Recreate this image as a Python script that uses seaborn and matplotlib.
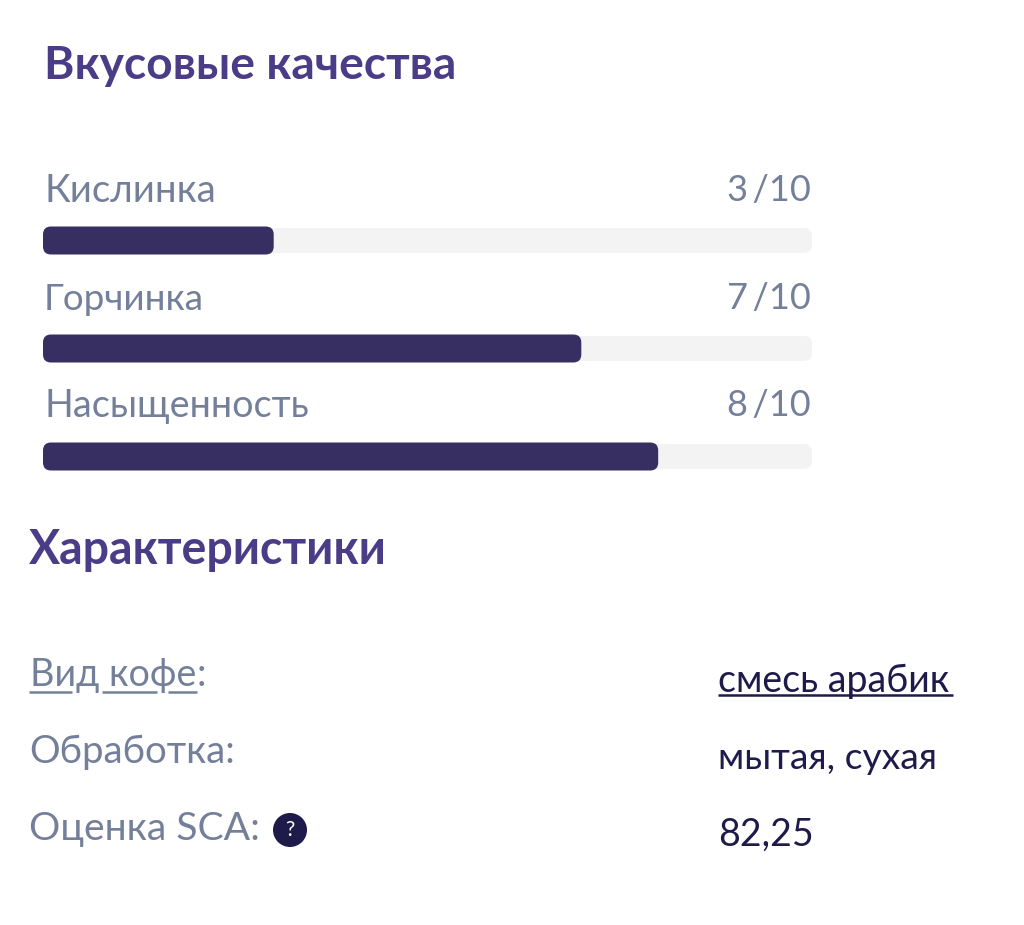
import matplotlib
matplotlib.use('Agg')
import matplotlib.pyplot as plt
import pandas as pd
import seaborn as sns
from matplotlib.patches import Circle, FancyBboxPatch

taste_labels = ['Кислинка', 'Горчинка', 'Насыщенность']
taste_values = [3, 7, 8]
taste_max = [10, 10, 10]
spec_labels = ['Вид кофе', 'Обработка:', 'Оценка SCA:']
spec_values = ['смесь арабик', 'мытая, сухая', '82,25']

sns.set_theme(style='white')
plt.rcParams['font.family'] = ['Lato', 'Noto Sans', 'DejaVu Sans']

PURPLE = '#4a3c87'
BAR = '#372f61'
TRACK = '#f3f3f4'
GREY = '#74809a'
DARK = '#1e1a4a'


def round_bars(ax, start, color):
    # swap the square seaborn bars for rounded ones of the same size
    bars = list(ax.patches)[start:]
    for bar in bars:
        rounded = FancyBboxPatch((bar.get_x(), bar.get_y()), bar.get_width(), bar.get_height(),
                                 boxstyle='round,pad=0,rounding_size=0.104', mutation_aspect=0.712,
                                 facecolor=color, edgecolor='none')
        bar.remove()
        ax.add_patch(rounded)


W, H = 1024, 925
fig = plt.figure(figsize=(W / 100, H / 100), dpi=100, facecolor='white')

# bars, track runs 43-812 px and one row is 108 px high
ax = fig.add_axes([43 / W, 1 - 510.5 / H, 769 / W, 324 / H])
df = pd.DataFrame({'label': taste_labels, 'value': taste_values, 'max': taste_max})
sns.barplot(data=df, y='label', x='max', orient='h', color=TRACK, saturation=1, width=25 / 108, ax=ax)
round_bars(ax, 0, TRACK)
n = len(ax.patches)
sns.barplot(data=df, y='label', x='value', orient='h', color=BAR, saturation=1, width=28 / 108, ax=ax)
round_bars(ax, n, BAR)
ax.set_xlim(0, 10)
ax.set_ylim(2.5, -0.5)
ax.set_axis_off()

# overlay in pixel coordinates for the text
top = fig.add_axes([0, 0, 1, 1], zorder=3)
top.set_xlim(0, W)
top.set_ylim(H, 0)
top.set_axis_off()
top.patch.set_alpha(0)

top.text(44, 79, 'Вкусовые качества', fontsize=33.2, fontweight='bold', color=PURPLE, va='baseline')
top.text(29, 564, 'Характеристики', fontsize=33.5, fontweight='bold', color=PURPLE, va='baseline')

for label, value, maxv, y, size in zip(taste_labels, taste_values, taste_max, [202, 310, 417], [27.6, 26.6, 27.2]):
    top.text(44, y, label, fontsize=size, color=GREY, va='baseline')
    top.text(811, y - 1, f'{value}\u2009/{maxv}', fontsize=26, color=GREY, va='baseline', ha='right')

top.text(30, 686, spec_labels[0], fontsize=27.2, color=GREY, va='baseline')
top.text(197, 686, ':', fontsize=27, color=GREY, va='baseline')
top.text(29, 763, spec_labels[1], fontsize=27.6, color=GREY, va='baseline')
top.text(29, 840, spec_labels[2], fontsize=28.2, color=GREY, va='baseline')

for x0, x1 in [(29, 72), (102, 157), (168, 197)]:
    top.plot([x0, x1], [692, 692], color=GREY, lw=1.8, solid_capstyle='butt')

for value, y, size in zip(spec_values, [692, 769, 846], [27, 26.8, 27]):
    top.text(718, y, value, fontsize=size, color=DARK, va='baseline')
top.plot([718, 953], [695, 695], color=DARK, lw=1.8, solid_capstyle='butt')

top.add_patch(Circle((290, 830), 17, facecolor=DARK, edgecolor='none'))
top.text(290, 830, '?', fontsize=15, color='white', ha='center', va='center')

fig.savefig('out.png', dpi=100)
